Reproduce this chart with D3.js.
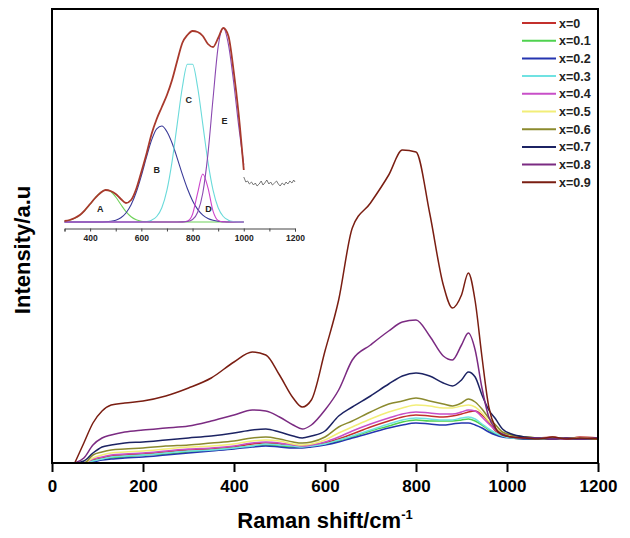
<!DOCTYPE html>
<html>
<head>
<meta charset="utf-8">
<script src="https://cdn.jsdelivr.net/npm/d3@7"></script>
<style>
    body { margin: 0; background: #fff; }
    svg { display: block; font-family: "Liberation Sans", Arial, sans-serif; }
</style>
</head>
<body>
<div id="chart"></div>
<script>
// Raman shift grid (cm-1) shared by all spectra
const shift = [50, 70, 90, 110, 130, 160, 200, 250, 300, 350, 400, 440, 470, 500, 530, 550, 570, 600, 630, 660,
    700, 740, 770, 800, 830, 860, 880, 900, 915, 930, 945, 960, 975, 990, 1010, 1040, 1070, 1100, 1130, 1160, 1200];

const composition = ['x=0', 'x=0.1', 'x=0.2', 'x=0.3', 'x=0.4', 'x=0.5', 'x=0.6', 'x=0.7', 'x=0.8', 'x=0.9'];

// intensities (a.u.)
const int_x00 = [0, 0, 3, 5, 7, 8, 9, 11, 13, 14, 16, 19, 20, 19, 17, 17, 18, 20, 24, 29, 36, 42, 46, 48, 47, 46, 47, 49, 51, 52, 48, 41, 32, 28, 27, 26, 25, 26, 24, 26, 25];
const int_x01 = [0, 0, 2, 4, 5, 6, 8, 9, 11, 13, 15, 17, 18, 17, 16, 16, 17, 19, 22, 26, 32, 37, 41, 43, 42, 42, 42, 43, 44, 42, 38, 33, 29, 27, 25, 24, 24, 25, 24, 24, 24];
const int_x02 = [0, 0, 1, 3, 4, 5, 6, 8, 10, 12, 14, 16, 17, 16, 15, 15, 16, 18, 21, 25, 30, 35, 38, 40, 39, 38, 39, 40, 40, 38, 35, 31, 28, 26, 25, 24, 24, 24, 24, 24, 24];
const int_x03 = [0, 0, 2, 4, 6, 7, 8, 10, 12, 13, 15, 17, 19, 18, 17, 16, 17, 19, 23, 27, 33, 39, 43, 45, 44, 43, 43, 45, 46, 44, 39, 34, 30, 27, 25, 25, 24, 24, 25, 24, 24];
const int_x04 = [0, 0, 4, 6, 8, 9, 10, 12, 14, 15, 17, 20, 21, 20, 18, 17, 18, 21, 26, 32, 39, 45, 49, 51, 50, 49, 49, 51, 53, 52, 46, 39, 33, 29, 26, 25, 25, 24, 24, 25, 24];
const int_x05 = [0, 0, 5, 8, 10, 11, 12, 14, 16, 17, 19, 22, 23, 22, 19, 18, 19, 23, 30, 36, 44, 51, 55, 58, 57, 55, 55, 57, 58, 56, 50, 42, 35, 30, 27, 26, 25, 24, 25, 25, 24];
const int_x06 = [0, 0, 8, 11, 13, 14, 15, 17, 18, 20, 22, 25, 26, 24, 21, 20, 21, 26, 36, 42, 51, 59, 62, 65, 62, 59, 57, 60, 64, 61, 54, 45, 38, 31, 28, 26, 25, 24, 25, 24, 24];
const int_x07 = [0, 2, 10, 16, 18, 20, 21, 23, 25, 27, 30, 33, 34, 31, 27, 25, 27, 32, 47, 56, 67, 79, 87, 90, 87, 80, 77, 83, 91, 86, 68, 53, 44, 34, 29, 26, 25, 24, 25, 24, 25];
const int_x08 = [0, 5, 18, 25, 28, 31, 33, 35, 37, 42, 48, 53, 52, 46, 38, 34, 38, 53, 73, 103, 118, 132, 141, 143, 127, 107, 103, 118, 130, 113, 75, 46, 34, 29, 26, 25, 25, 24, 25, 24, 25];
const int_x09 = [0, 20, 40, 52, 58, 60, 62, 67, 75, 85, 101, 111, 108, 88, 65, 56, 63, 112, 163, 235, 260, 288, 313, 311, 250, 178, 155, 168, 190, 162, 106, 56, 35, 28, 26, 25, 24, 26, 24, 25, 24];

// inset: peak fit of the x=0.9 spectrum
const fitShift = [300, 320, 340, 360, 380, 400, 420, 440, 460, 480, 500, 520, 540, 560, 580, 600, 620, 640, 660, 680,
    700, 720, 740, 760, 780, 800, 820, 840, 860, 880, 900, 920, 940, 960, 980, 1000];
const fitTotal = [1, 2, 4, 7, 12, 18, 24, 29, 32, 31, 28, 23, 19, 22, 33, 50, 68, 88, 103, 115, 127, 142, 161, 179, 187, 191, 190, 186, 178, 175, 184, 194, 186, 152, 108, 52];
const peakA = [0.7, 1.7, 3.7, 6.9, 11.7, 17.8, 24.2, 29.3, 32, 30.6, 25, 17.5, 10.4, 5.3, 2.3, 0.8, 0.3, 0, 0, 0, 0, 0, 0, 0, 0, 0, 0, 0, 0, 0, 0, 0, 0, 0, 0, 0];
const peakB = [0, 0, 0, 0, 0, 0, 0, 0, 0.2, 0.7, 1.8, 4.2, 9, 17.2, 29.7, 46.2, 64.8, 81.9, 93.2, 96, 90.3, 79, 63.9, 47.8, 33.2, 21.3, 12.6, 6.9, 3.5, 1.7, 0.7, 0.3, 0, 0, 0, 0];
const peakC = [0, 0, 0, 0, 0, 0, 0, 0, 0, 0, 0, 0, 0, 0, 0, 0.1, 0.5, 1.8, 5.5, 14.3, 31.9, 60.4, 97.7, 134.5, 157.8, 157.8, 134.5, 97.7, 60.4, 31.9, 14.3, 5.5, 1.8, 0.5, 0.1, 0];
const peakD = [0, 0, 0, 0, 0, 0, 0, 0, 0, 0, 0, 0, 0, 0, 0, 0, 0, 0, 0, 0, 0, 0, 0, 0, 0.9, 7.8, 29.1, 48, 34.3, 10.8, 1.5, 0.1, 0, 0, 0, 0];
const peakE = [0, 0, 0, 0, 0, 0, 0, 0, 0, 0, 0, 0, 0, 0, 0, 0, 0, 0, 0, 0, 0, 0, 0, 0.1, 0.5, 2.5, 9.7, 29, 67.9, 123.5, 175.3, 194, 177.7, 140.8, 96.4, 57.1];
const peakNames = ['A', 'B', 'C', 'D', 'E'];
const peakLabelAt = [[440, 10], [660, 49], [785, 119], [862, 10], [925, 98]];

// raw data beyond the fitted range
const rawShift = [1000, 1008, 1015, 1022, 1030, 1038, 1045, 1052, 1060, 1068, 1075, 1082, 1090, 1098, 1105, 1112, 1120, 1128, 1135, 1142, 1150, 1158, 1165, 1172, 1180, 1188, 1195, 1200];
const rawTail = [45, 40, 41, 38, 40, 37, 39, 36, 38, 41, 37, 39, 42, 38, 40, 37, 39, 41, 38, 36, 39, 37, 40, 38, 41, 39, 42, 40];

const seriesColors = ['#c3302c', '#4fd24f', '#2535b0', '#70e2e2', '#c84fc8', '#f2ee78', '#8b8a2e', '#1c2363', '#7b2b82', '#7a1e12'];
const peakColors = ['#6fd25a', '#3a3a98', '#6adada', '#cc44cc', '#8a48b0'];

const W = 630, H = 538;
const margin = { top: 9, right: 32, bottom: 75, left: 52 };

const svg = d3.select('#chart')
    .append('svg')
    .attr('width', W)
    .attr('height', H);

const x = d3.scaleLinear()
    .domain([0, 1200])
    .range([margin.left, W - margin.right]);

const y = d3.scaleLinear()
    .domain([0, 454])
    .range([H - margin.bottom, margin.top]);

// spectra
const series = [int_x00, int_x01, int_x02, int_x03, int_x04, int_x05, int_x06, int_x07, int_x08, int_x09];

const line = d3.line()
    .x((d, i) => x(shift[i]))
    .y(d => y(d))
    .curve(d3.curveMonotoneX);

svg.append('g')
    .selectAll('path')
    .data(series)
    .join('path')
    .attr('d', line)
    .attr('fill', 'none')
    .attr('stroke', (d, i) => seriesColors[i])
    .attr('stroke-width', 1.5);

// frame + x axis
svg.append('rect')
    .attr('x', margin.left)
    .attr('y', margin.top)
    .attr('width', W - margin.left - margin.right)
    .attr('height', H - margin.top - margin.bottom)
    .attr('fill', 'none')
    .attr('stroke', '#000')
    .attr('stroke-width', 2);

const xAxis = svg.append('g')
    .attr('transform', `translate(0,${H - margin.bottom})`)
    .call(d3.axisBottom(x)
        .tickValues(d3.range(0, 1201, 200))
        .tickFormat(d3.format('d'))
        .tickSize(9)
        .tickPadding(8));
xAxis.select('.domain').remove();
xAxis.selectAll('.tick line').attr('stroke', '#000').attr('stroke-width', 2);
xAxis.selectAll('.tick text')
    .attr('fill', '#000')
    .attr('font-size', 17)
    .attr('font-weight', 'bold')
    .attr('font-family', '"Liberation Sans", Arial, sans-serif');

const xTitle = svg.append('text')
    .attr('x', (margin.left + W - margin.right) / 2)
    .attr('y', 528)
    .attr('text-anchor', 'middle')
    .attr('font-size', 22)
    .attr('font-weight', 'bold')
    .text('Raman shift/cm');
xTitle.append('tspan')
    .attr('dy', -9)
    .attr('font-size', 13)
    .text('-1');

svg.append('text')
    .attr('transform', `translate(30,${(margin.top + H - margin.bottom) / 2 + 14}) rotate(-90)`)
    .attr('text-anchor', 'middle')
    .attr('font-size', 22)
    .attr('font-weight', 'bold')
    .text('Intensity/a.u');

// legend
const legend = svg.append('g')
    .selectAll('g')
    .data(composition)
    .join('g')
    .attr('transform', (d, i) => `translate(522,${23 + i * 17.7})`);

legend.append('line')
    .attr('x1', 0)
    .attr('x2', 34)
    .attr('stroke', (d, i) => seriesColors[i])
    .attr('stroke-width', 2);

legend.append('text')
    .attr('x', 37)
    .attr('dy', '0.36em')
    .attr('font-size', 12.5)
    .attr('font-weight', 'bold')
    .attr('fill', '#222')
    .text(d => d);

// inset
const ix = d3.scaleLinear().domain([300, 1200]).range([64.5, 295]);
const iy = d3.scaleLinear().domain([0, 194]).range([222, 28]);

const inset = svg.append('g');

const iAxis = inset.append('g')
    .attr('transform', 'translate(0,228.5)')
    .call(d3.axisBottom(ix).tickValues(d3.range(300, 1201, 100)).tickSize(3).tickPadding(3)
        .tickFormat(d => (d % 200 === 0 ? d : '')));
iAxis.select('.domain').attr('stroke', '#444');
iAxis.selectAll('.tick line').attr('stroke', '#444');
iAxis.selectAll('.tick text')
    .attr('fill', '#222')
    .attr('font-size', 8.5)
    .attr('font-weight', 'bold')
    .attr('font-family', '"Liberation Sans", Arial, sans-serif');

const iLine = d3.line()
    .x((d, i) => ix(fitShift[i]))
    .y(d => iy(d))
    .curve(d3.curveMonotoneX);

inset.append('g')
    .selectAll('path')
    .data([peakA, peakB, peakC, peakD, peakE])
    .join('path')
    .attr('d', iLine)
    .attr('fill', 'none')
    .attr('stroke', (d, i) => peakColors[i])
    .attr('stroke-width', 1.1);

inset.append('path')
    .attr('d', iLine(fitTotal))
    .attr('fill', 'none')
    .attr('stroke', '#a8392c')
    .attr('stroke-width', 1.8);

inset.append('path')
    .attr('d', d3.line().x((d, i) => ix(rawShift[i])).y(d => iy(d))(rawTail))
    .attr('fill', 'none')
    .attr('stroke', '#555')
    .attr('stroke-width', 0.8);

inset.append('g')
    .selectAll('text')
    .data(peakNames)
    .join('text')
    .attr('x', (d, i) => ix(peakLabelAt[i][0]))
    .attr('y', (d, i) => iy(peakLabelAt[i][1]))
    .attr('text-anchor', 'middle')
    .attr('font-size', 9)
    .attr('font-weight', 'bold')
    .attr('fill', '#222')
    .text(d => d);
</script>
</body>
</html>
